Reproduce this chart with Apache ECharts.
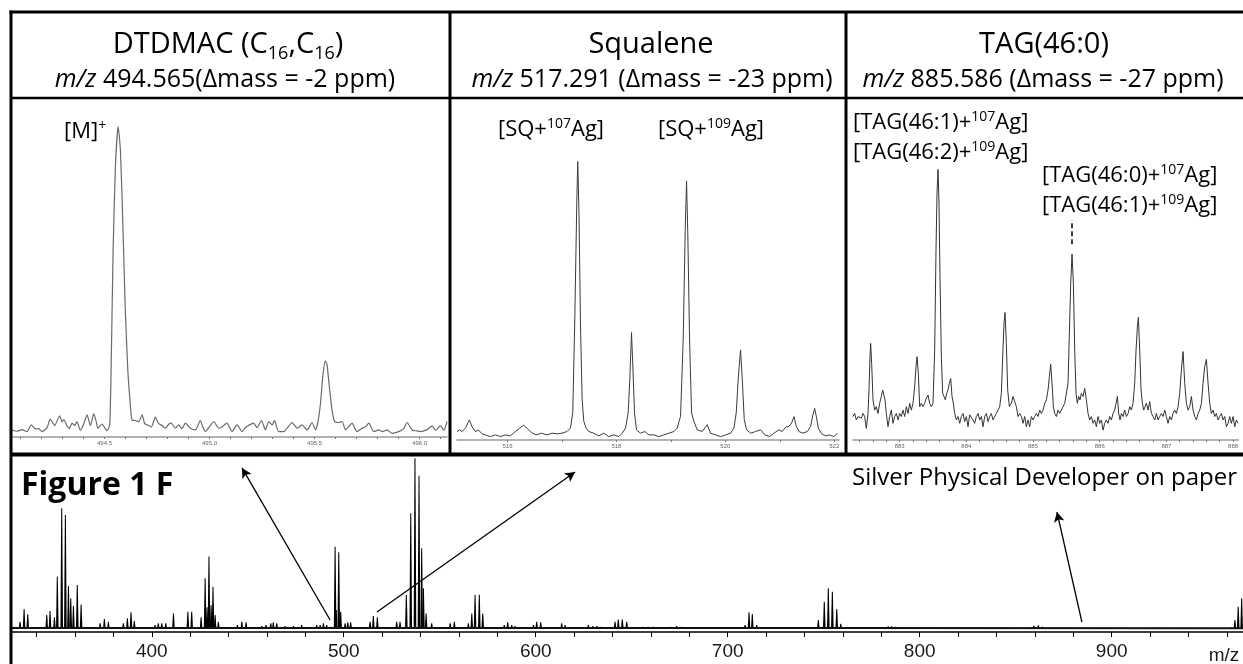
<!DOCTYPE html>
<html>
<head>
<meta charset="utf-8">
<script src="https://cdn.jsdelivr.net/npm/echarts@6/dist/echarts.min.js"></script>
<style>
html, body { margin: 0; padding: 0; background: #fff; }
#chart { width: 1243px; height: 664px; }
</style>
</head>
<body>
<div id="chart"></div>
<script>
// ---- Zoomed profile spectra: [m/z, relative intensity] ----
const dtdmacProfile = [
  [494.060,2.0],[494.084,1.7],[494.108,2.2],[494.131,1.6],[494.152,3.6],[494.171,2.4],[494.187,2.5],[494.203,1.6],
  [494.227,2.8],[494.242,5.3],[494.254,4.2],[494.263,3.4],[494.287,6.3],[494.298,4.5],[494.306,5.2],[494.322,3.3],
  [494.333,2.5],[494.346,4.1],[494.358,3.4],[494.369,4.6],[494.385,2.0],[494.401,3.8],[494.417,6.6],[494.433,3.4],
  [494.449,6.9],[494.460,4.8],[494.469,2.6],[494.488,3.8],[494.512,1.9],[494.525,3.5],[494.533,25],[494.541,55],
  [494.552,80],[494.565,92.1],[494.576,85],[494.588,62],[494.599,38],[494.611,20],[494.620,12],[494.631,5.0],
  [494.647,4.9],[494.663,4.5],[494.679,6.6],[494.691,4.0],[494.703,3.6],[494.723,3.0],[494.742,5.9],[494.758,4.0],
  [494.774,3.4],[494.790,2.6],[494.806,3.8],[494.818,4.1],[494.837,2.6],[494.853,3.6],[494.869,2.5],[494.885,4.1],
  [494.909,2.6],[494.933,2.1],[494.956,4.9],[494.968,3.0],[494.980,1.6],[494.999,3.0],[495.020,4.6],[495.044,2.6],
  [495.063,3.2],[495.083,4.1],[495.107,1.6],[495.131,3.6],[495.155,1.6],[495.171,2.8],[495.190,3.6],[495.210,4.1],
  [495.226,2.8],[495.247,4.9],[495.266,2.1],[495.282,4.6],[495.298,3.6],[495.309,4.9],[495.329,1.6],[495.353,1.6],
  [495.374,3.0],[495.393,4.3],[495.405,3.4],[495.417,2.6],[495.440,3.6],[495.464,2.1],[495.488,4.3],[495.504,2.1],
  [495.516,4.5],[495.528,10],[495.539,18],[495.551,22.6],[495.559,21.5],[495.570,15],[495.583,8],[495.596,4.5],
  [495.615,4.3],[495.631,4.6],[495.647,2.1],[495.662,3.0],[495.678,4.1],[495.702,1.6],[495.726,2.6],[495.742,3.0],
  [495.758,4.1],[495.781,1.6],[495.805,2.1],[495.824,1.6],[495.845,2.1],[495.869,1.1],[495.900,1.6],[495.924,2.5],
  [495.940,4.3],[495.964,2.1],[495.988,1.8],[496.003,1.6],[496.035,2.2],[496.059,3.3],[496.075,2.0],[496.099,3.3],
  [496.115,2.0],[496.130,4.6]
];

const squaleneProfile = [
  [515.072,2.5],[515.115,3.0],[515.164,2.5],[515.225,3.4],[515.299,5.9],[515.348,3.9],[515.409,2.5],[515.470,2.9],
  [515.532,1.8],[515.593,1.5],[515.685,1.0],[515.777,1.5],[515.869,1.0],[515.961,1.5],[516.053,1.2],[516.144,2.5],
  [516.218,3.4],[516.298,4.4],[516.359,3.4],[516.439,2.2],[516.524,1.5],[516.622,2.0],[516.727,1.5],[516.818,2.0],
  [516.910,1.8],[517.002,2.0],[517.094,2.5],[517.156,3.5],[517.198,8],[517.235,35],[517.272,70],[517.290,81.9],
  [517.315,65],[517.339,35],[517.370,12],[517.401,5.5],[517.443,3.5],[517.493,2.5],[517.584,2.0],[517.676,1.2],
  [517.768,2.0],[517.860,1.0],[517.952,1.5],[518.044,1.0],[518.105,2.0],[518.167,3.5],[518.216,8],[518.246,18],
  [518.277,31.6],[518.301,22],[518.332,8],[518.368,3.0],[518.442,2.0],[518.522,2.5],[518.595,1.5],[518.688,1.5],
  [518.779,1.0],[518.871,1.5],[518.963,2.0],[519.055,2.5],[519.116,3.5],[519.178,7],[519.227,30],[519.264,62],
  [519.288,76.2],[519.312,60],[519.343,30],[519.380,8],[519.422,5.5],[519.484,3.0],[519.576,2.5],[519.668,4.5],
  [519.729,2.0],[519.821,1.5],[519.913,1.0],[520.005,1.5],[520.097,2.0],[520.158,3.5],[520.201,8],[520.237,18],
  [520.280,26.5],[520.311,18],[520.348,6],[520.391,3.0],[520.464,2.0],[520.556,2.5],[520.648,3.0],[520.728,1.5],
  [520.813,1.0],[520.893,2.0],[520.985,3.0],[521.046,2.5],[521.108,3.8],[521.169,4.0],[521.218,5.0],[521.261,6.9],
  [521.304,4.0],[521.353,2.5],[521.426,2.0],[521.506,2.5],[521.567,4.0],[521.610,7.5],[521.641,9.3],[521.671,7.0],
  [521.708,3.5],[521.769,1.8],[521.843,1.2],[521.916,1.5],[521.996,1.0],[522.057,2.0]
];

const tagProfile = [
  [882.300,6.9],[882.325,7.8],[882.350,5.9],[882.375,6.9],[882.400,7.4],[882.425,6.4],[882.450,7.8],[882.475,6.9],
  [882.500,3.4],[882.525,7.8],[882.540,14.7],[882.555,24.5],[882.565,28.4],[882.580,22.5],[882.600,11.8],[882.625,8.8],
  [882.650,9.8],[882.675,7.8],[882.700,10.8],[882.725,12.8],[882.745,14.7],[882.760,15.2],[882.780,11.8],[882.800,7.8],
  [882.825,3.9],[882.850,6.9],[882.875,8.8],[882.900,4.9],[882.925,6.9],[882.950,7.8],[882.975,5.9],[883.000,7.8],
  [883.025,6.9],[883.050,8.8],[883.075,6.9],[883.100,9.8],[883.125,7.8],[883.150,10.8],[883.175,8.8],[883.200,10.8],
  [883.225,15.7],[883.245,21.6],[883.260,24.5],[883.280,19.6],[883.300,9.8],[883.325,10.8],[883.350,9.8],[883.375,10.8],
  [883.400,12.3],[883.425,13.2],[883.450,10.8],[883.475,9.8],[883.500,10.8],[883.525,26.5],[883.545,55.9],[883.560,72.5],
  [883.575,79.6],[883.590,69.6],[883.605,48.0],[883.625,24.5],[883.645,13.7],[883.665,12.8],[883.685,11.8],[883.705,13.7],
  [883.725,14.7],[883.745,16.7],[883.765,18.1],[883.785,12.8],[883.805,10.8],[883.825,7.8],[883.850,5.9],[883.875,6.9],
  [883.900,4.9],[883.925,6.9],[883.950,7.8],[883.975,5.4],[884.000,6.9],[884.025,3.9],[884.050,7.4],[884.075,7.8],
  [884.100,5.9],[884.125,4.9],[884.150,6.9],[884.175,7.8],[884.200,5.9],[884.225,6.9],[884.250,3.9],[884.275,6.9],
  [884.300,7.8],[884.325,5.4],[884.350,6.9],[884.375,7.8],[884.400,5.9],[884.425,6.9],[884.450,7.8],[884.475,7.8],
  [884.500,9.8],[884.525,13.7],[884.545,24.5],[884.565,34.3],[884.580,37.5],[884.600,28.4],[884.620,14.7],[884.645,9.8],
  [884.675,10.8],[884.700,12.8],[884.725,13.2],[884.750,9.8],[884.775,6.9],[884.800,7.8],[884.825,6.9],[884.850,4.9],
  [884.875,6.9],[884.900,3.9],[884.925,5.9],[884.950,3.9],[884.975,6.9],[885.000,5.9],[885.025,6.9],[885.050,7.8],
  [885.075,6.9],[885.100,8.8],[885.125,7.8],[885.150,8.8],[885.175,10.8],[885.200,11.8],[885.225,14.7],[885.245,18.6],
  [885.265,22.3],[885.285,16.7],[885.305,9.8],[885.325,7.8],[885.350,6.9],[885.375,8.8],[885.400,7.8],[885.425,8.8],
  [885.450,9.8],[885.475,10.8],[885.500,10.8],[885.525,16.7],[885.545,31.4],[885.565,46.1],[885.585,54.7],[885.605,46.1],
  [885.625,26.5],[885.645,13.7],[885.665,10.8],[885.685,12.8],[885.705,11.8],[885.725,13.7],[885.750,12.8],[885.775,15.2],
  [885.800,11.8],[885.825,7.8],[885.850,5.9],[885.875,6.9],[885.900,4.9],[885.925,5.9],[885.950,3.9],[885.975,6.9],
  [886.000,4.9],[886.025,5.9],[886.050,2.9],[886.075,4.9],[886.100,5.9],[886.125,4.9],[886.150,6.9],[886.175,5.9],
  [886.200,7.8],[886.225,8.8],[886.245,10.8],[886.265,12.8],[886.285,7.8],[886.305,5.9],[886.325,7.8],[886.350,6.9],
  [886.375,8.8],[886.400,6.9],[886.425,7.8],[886.450,9.8],[886.475,8.8],[886.500,10.8],[886.525,16.7],[886.545,26.5],
  [886.565,33.3],[886.580,36.1],[886.600,26.5],[886.620,14.7],[886.640,10.8],[886.660,8.8],[886.680,9.8],[886.700,10.8],
  [886.725,8.8],[886.750,11.3],[886.775,7.8],[886.800,6.9],[886.825,5.9],[886.850,7.8],[886.875,5.9],[886.900,6.9],
  [886.925,7.8],[886.950,6.9],[886.975,8.8],[887.000,6.9],[887.025,4.9],[887.050,6.9],[887.075,5.9],[887.100,7.8],
  [887.125,8.8],[887.150,7.8],[887.175,9.8],[887.200,13.7],[887.225,20.6],[887.250,26.0],[887.275,16.7],[887.300,10.8],
  [887.325,8.8],[887.350,9.8],[887.375,12.8],[887.400,8.8],[887.425,6.9],[887.450,5.9],[887.475,7.8],[887.500,8.8],
  [887.525,10.8],[887.550,16.7],[887.575,21.6],[887.600,23.7],[887.625,16.7],[887.650,10.8],[887.675,7.8],[887.700,8.8],
  [887.725,6.9],[887.750,7.8],[887.775,5.9],[887.800,6.9],[887.825,7.8],[887.850,5.9],[887.875,6.9],[887.900,3.9],
  [887.925,4.9],[887.950,6.9],[887.975,4.9],[888.000,6.9],[888.025,3.9],[888.050,5.9],[888.075,4.9]
];

// ---- Full-range survey spectrum: centroid peaks [m/z, relative intensity] ----
const surveyPeaks = [
  [331.4,5.8],[333.5,13.0],[335.4,10.0],
  [345.3,9.6],[347.0,11.9],[349.3,8.3],[350.8,31.3],[353.1,69.9],[355.0,66.1],[356.6,26.0],[357.8,19.0],[359.2,14.7],[361.2,26.6],[363.2,15.6],
  [373.1,4.9],[375.3,7.3],[377.4,5.8],
  [385.2,4.9],[387.3,7.7],[389.2,11.1],[390.9,6.4],
  [401.7,4.0],[403.4,4.9],[405.2,4.9],[407.3,4.9],[411.3,10.5],
  [418.8,11.5],[420.8,11.5],
  [425.7,8.3],[427.8,30.3],[428.8,14.0],[429.8,42.6],[430.9,15.3],[431.9,25.6],[433.0,9.6],[434.7,5.8],
  [444.6,4.0],[446.9,5.8],[449.1,5.5],
  [457.3,3.4],[459.5,4.0],[462.0,4.9],[463.3,5.5],[465.1,4.9],
  [469.4,3.4],[473.8,3.4],[478.1,4.0],
  [485.9,4.0],[487.7,4.0],[489.4,4.9],[491.1,4.0],[493.4,3.0],
  [495.5,48.2],[496.1,12.4],[497.4,45.0],[498.4,11.5],[500.7,4.9],[502.1,5.5],[503.6,5.5],
  [513.7,5.8],[515.4,9.0],[517.5,8.3],
  [527.6,5.8],[529.3,5.8],
  [532.6,20.9],[534.9,67.1],[537.1,98.1],[539.2,88.3],[540.6,47.3],[541.5,24.7],[542.9,10.5],[545.8,4.9],
  [555.4,4.9],[557.6,5.8],
  [564.9,4.9],[566.7,10.5],[568.4,21.1],[570.6,21.1],[572.4,10.5],
  [583.6,4.0],[585.4,5.5],[587.5,4.0],[589.2,3.4],
  [598.8,4.0],[600.5,5.8],[602.6,5.5],
  [613.5,4.9],[615.3,4.0],
  [627.4,4.0],[629.7,3.4],[631.8,3.4],[633.5,3.0],
  [641.3,5.8],[643.0,7.0],[645.1,7.0],[647.4,5.8],
  [656.0,3.0],[658.6,3.0],[661.2,3.0],
  [670.0,3.0],[673.4,3.4],[676.0,3.0],
  [683.9,2.6],[686.5,2.6],[698.6,2.6],
  [709.0,4.0],[711.1,11.1],[712.8,10.2],[715.1,4.0],
  [747.2,6.8],[750.3,17.1],[752.4,24.7],[754.5,22.8],[756.8,13.0],[758.9,4.7],
  [782.0,2.6],[783.6,3.3],[785.4,3.3],[787.1,3.0],
  [816.7,2.5],[818.4,2.6],
  [857.5,2.8],[859.5,3.5],[861.8,3.8],[863.9,3.0],
  [924.3,2.5],
  [962.5,2.6],[964.2,6.8],[965.9,14.3],[967.7,19.0]
];
const surveyBaseline = [[327.2, 2.3], [760, 2.3], [968.4, 2.1]];
const SURVEY_BASE = 2.0;

// ---- Axis ticks and labels ----
const dtdmacTicks = [494.1,494.2,494.3,494.4,494.5,494.6,494.7,494.8,494.9,495.0,495.1,495.2,495.3,495.4,495.5,495.6,495.7,495.8,495.9,496.0,496.1];
const dtdmacLabels = [494.5, 495.0, 495.5, 496.0];
const squaleneTicks = [516, 517, 518, 519, 520, 521, 522];
const squaleneLabels = [516, 518, 520, 522];
const tagTicks = [882.4,882.6,882.8,883.0,883.2,883.4,883.6,883.8,884.0,884.2,884.4,884.6,884.8,885.0,885.2,885.4,885.6,885.8,886.0,886.2,886.4,886.6,886.8,887.0,887.2,887.4,887.6,887.8,888.0];
const tagLabels = [883, 884, 885, 886, 887, 888];
const surveyTicks = [340,360,380,400,420,440,460,480,500,520,540,560,580,600,620,640,660,680,700,720,740,760,780,800,820,840,860,880,900,920,940,960];
const surveyLabels = [400, 500, 600, 700, 800, 900];

// ---- Annotation positions in data space ----
const tagGuide = [[885.585, 57.6], [885.585, 64.7]];
const surveyArrows = [
  [[492.9, 6.8], [447.0, 92.7]],
  [[517.3, 11.3], [620.5, 90.4]],
  [[884.5, 5.6], [871.5, 67.8]]
];

const FONT = '"Open Sans", "Noto Sans", sans-serif';
const ARIAL = '"Liberation Sans", Arial, sans-serif';

const headRich = {
  t: { fontFamily: FONT, fontSize: 29, lineHeight: 36, color: '#000' },
  s: { fontFamily: FONT, fontSize: 18, lineHeight: 18, verticalAlign: 'bottom', color: '#000' },
  n: { fontFamily: FONT, fontSize: 25, lineHeight: 28, color: '#000' },
  i: { fontFamily: FONT, fontSize: 25, lineHeight: 28, fontStyle: 'italic', color: '#000' }
};
const noteRich = {
  a: { fontFamily: FONT, fontSize: 22, lineHeight: 26, color: '#000' },
  p: { fontFamily: FONT, fontSize: 14, lineHeight: 14, verticalAlign: 'top', color: '#000' }
};

function label(x, y, text, rich, align) {
  return {
    type: 'text', x: x, y: y, z: 100, silent: true,
    style: { text: text, rich: rich, align: align || 'center', verticalAlign: 'middle',
             textAlign: align || 'center', textVerticalAlign: 'middle' }
  };
}
function rule(x1, y1, x2, y2, w) {
  return { type: 'line', z: 90, silent: true, shape: { x1: x1, y1: y1, x2: x2, y2: y2 },
           style: { stroke: '#000', lineWidth: w } };
}

function zoomAxis(grid, min, max, ticks, labels, digits) {
  return {
    type: 'value', gridIndex: grid, min: min, max: max,
    axisLine: { show: true, onZero: false, lineStyle: { color: '#9a9a9a', width: 1.5 } },
    axisTick: { show: true, customValues: ticks, length: 2, lineStyle: { color: '#777', width: 1 } },
    axisLabel: { customValues: labels, formatter: v => v.toFixed(digits), fontSize: 6, color: '#666',
                 margin: 3, fontFamily: ARIAL },
    splitLine: { show: false }
  };
}
function hiddenY(grid) {
  return { type: 'value', gridIndex: grid, min: 0, max: 100, show: false, splitLine: { show: false } };
}

const chart = echarts.init(document.getElementById('chart'));
chart.setOption({
  backgroundColor: '#fff',
  animation: false,
  grid: [
    { left: 12, top: 100, width: 435, height: 337 },
    { left: 457, top: 100, width: 382, height: 340 },
    { left: 853, top: 100, width: 385.4, height: 340 },
    { left: 12, top: 455, width: 1231, height: 177 }
  ],
  xAxis: [
    zoomAxis(0, 494.06, 496.13, dtdmacTicks, dtdmacLabels, 1),
    zoomAxis(1, 515.072, 522.088, squaleneTicks, squaleneLabels, 0),
    zoomAxis(2, 882.3, 888.08, tagTicks, tagLabels, 0),
    {
      type: 'value', gridIndex: 3, min: 327.2, max: 968.4,
      axisLine: { show: true, onZero: false, lineStyle: { color: '#000', width: 1.5 } },
      axisTick: { show: true, customValues: surveyTicks, length: 5, lineStyle: { color: '#000', width: 1 } },
      axisLabel: { customValues: surveyLabels, fontSize: 19, color: '#1a1a1a', margin: 10, fontFamily: ARIAL },
      splitLine: { show: false }
    }
  ],
  yAxis: [hiddenY(0), hiddenY(1), hiddenY(2), hiddenY(3)],
  series: [
    { type: 'line', xAxisIndex: 0, yAxisIndex: 0, data: dtdmacProfile, symbol: 'none', smooth: 0.2,
      silent: true, lineStyle: { color: '#6a6a6a', width: 1.2 } },
    { type: 'line', xAxisIndex: 1, yAxisIndex: 1, data: squaleneProfile, symbol: 'none',
      silent: true, lineStyle: { color: '#3c3c3c', width: 1 } },
    { type: 'line', xAxisIndex: 2, yAxisIndex: 2, data: tagProfile, symbol: 'none',
      silent: true, lineStyle: { color: '#333', width: 1 },
      markLine: {
        silent: true, symbol: ['none', 'none'], label: { show: false },
        lineStyle: { color: '#000', width: 1.5, type: [5, 3] },
        data: [[{ coord: tagGuide[0] }, { coord: tagGuide[1] }]]
      } },
    { type: 'custom', xAxisIndex: 3, yAxisIndex: 3, data: surveyPeaks, silent: true,
      encode: { x: 0, y: 1 },
      renderItem: function (params, api) {
        const top = api.coord([api.value(0), api.value(1)]);
        const bot = api.coord([api.value(0), SURVEY_BASE]);
        return {
          type: 'polygon',
          shape: { points: [[top[0] - 0.5, top[1]], [top[0] + 0.5, top[1]], [bot[0] + 1.3, bot[1]], [bot[0] - 1.3, bot[1]]] },
          style: { fill: '#000' }
        };
      } },
    { type: 'line', xAxisIndex: 3, yAxisIndex: 3, data: surveyBaseline, symbol: 'none',
      silent: true, lineStyle: { color: '#111', width: 2 },
      markLine: {
        silent: true, symbol: ['none', 'arrow'], symbolSize: [8, 10], label: { show: false },
        lineStyle: { color: '#000', width: 1.3, type: 'solid' },
        data: surveyArrows.map(a => [{ coord: a[0] }, { coord: a[1] }])
      } }
  ],
  graphic: [
    // frame of the panel layout
    rule(9.5, 12, 1243, 12, 3),
    rule(11, 10.5, 11, 664, 3),
    rule(11, 98, 1243, 98, 2.5),
    rule(450, 12, 450, 454, 3),
    rule(846, 12, 846, 454, 3),
    rule(11, 454.5, 1243, 454.5, 4),
    // panel headers
    label(228, 45, '{t|DTDMAC (C}{s|16}{t|,C}{s|16}{t|)}', headRich),
    label(225, 80, '{i|m/z}{n| 494.565(Δmass = -2 ppm)}', headRich),
    label(651, 45, '{t|Squalene}', headRich),
    label(652, 80, '{i|m/z}{n| 517.291 (Δmass = -23 ppm)}', headRich),
    label(1044, 45, '{t|TAG(46:0)}', headRich),
    label(1043, 80, '{i|m/z}{n| 885.586 (Δmass = -27 ppm)}', headRich),
    // peak annotations
    label(64, 132, '{a|[M]}{p|+}', noteRich, 'left'),
    label(498, 130, '{a|[SQ+}{p|107}{a|Ag]}', noteRich, 'left'),
    label(658, 130, '{a|[SQ+}{p|109}{a|Ag]}', noteRich, 'left'),
    label(853, 123, '{a|[TAG(46:1)+}{p|107}{a|Ag]}', noteRich, 'left'),
    label(853, 153, '{a|[TAG(46:2)+}{p|109}{a|Ag]}', noteRich, 'left'),
    label(1042, 176, '{a|[TAG(46:0)+}{p|107}{a|Ag]}', noteRich, 'left'),
    label(1042, 206, '{a|[TAG(46:1)+}{p|109}{a|Ag]}', noteRich, 'left'),
    // survey panel texts
    { type: 'text', x: 21, y: 486, z: 100, silent: true,
      style: { text: 'Figure 1 F', font: 'bold 32px ' + FONT, fill: '#000',
               align: 'left', verticalAlign: 'middle', textAlign: 'left', textVerticalAlign: 'middle' } },
    { type: 'text', x: 1237, y: 478, z: 100, silent: true,
      style: { text: 'Silver Physical Developer on paper', font: '24px ' + FONT, fill: '#000',
               align: 'right', verticalAlign: 'middle', textAlign: 'right', textVerticalAlign: 'middle' } },
    { type: 'text', x: 1224, y: 656, z: 100, silent: true,
      style: { text: 'm/z', font: '19px ' + ARIAL, fill: '#1a1a1a',
               align: 'center', verticalAlign: 'middle', textAlign: 'center', textVerticalAlign: 'middle' } }
  ]
});
</script>
</body>
</html>
